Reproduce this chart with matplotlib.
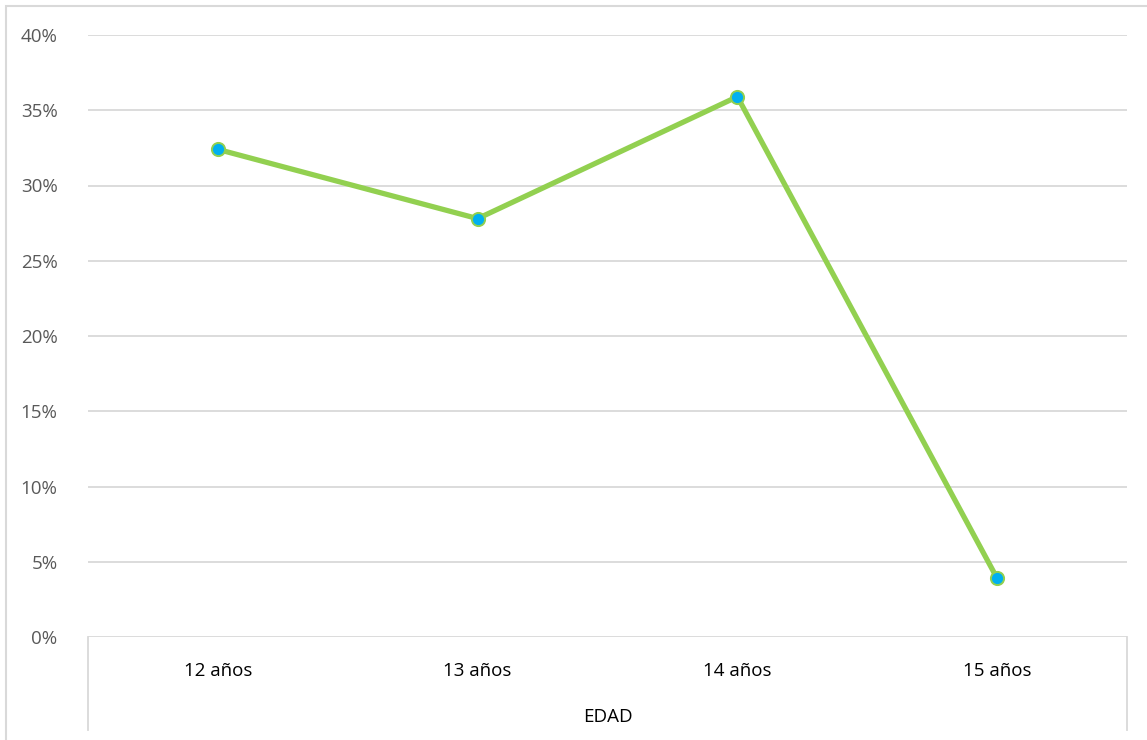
import matplotlib.pyplot as plt
from matplotlib.patches import Rectangle
from matplotlib.lines import Line2D
from matplotlib.ticker import FuncFormatter

categories = ["12 años", "13 años", "14 años", "15 años"]
values = [32.4, 27.8, 35.9, 3.9]
yticks = [0, 5, 10, 15, 20, 25, 30, 35, 40]

W, H = 1147, 740
fig = plt.figure(figsize=(W / 100, H / 100), dpi=100)
plt.rcParams['font.family'] = ['Open Sans', 'DejaVu Sans']

# chart border
fig.patches.append(Rectangle((6 / W, -0.1), 1.2, (H - 6) / H + 0.1, transform=fig.transFigure,
                             fill=False, edgecolor='#D9D9D9', linewidth=1.5))

left, right, top, bottom = 88, 1127, 35, 637
ax = fig.add_axes([left / W, (H - bottom) / H, (right - left) / W, (bottom - top) / H])

x = list(range(len(categories)))
ax.plot(x, values, color='#92D050', linewidth=3.8, marker='o', markersize=9.5,
        markerfacecolor='#00B0F0', markeredgecolor='#92D050', markeredgewidth=1.4, zorder=3)

ax.set_xlim(-0.5, len(categories) - 0.5)
ax.set_ylim(0, 40)
ax.set_yticks(yticks)
ax.yaxis.set_major_formatter(FuncFormatter(lambda v, p: f"{v:.0f}%"))
ax.grid(axis='y', color='#D9D9D9', linewidth=1.3)
ax.set_axisbelow(True)
for s in ax.spines.values():
    s.set_visible(False)
ax.tick_params(axis='y', length=0, pad=22, labelsize=13.5, labelcolor='#595959')
ax.set_xticks(x)
ax.set_xticklabels(categories)
ax.tick_params(axis='x', length=0, pad=18, labelsize=13.5, labelcolor='#000000')
ax.set_xlabel("EDAD", fontsize=13.5, color='#000000', labelpad=20)

# category axis separators
for xa in (0, 1):
    ax.add_line(Line2D([xa, xa], [0, -93 / (bottom - top)], transform=ax.transAxes,
                       color='#D9D9D9', linewidth=1.3, clip_on=False))

fig.savefig("out.png", dpi=100)
